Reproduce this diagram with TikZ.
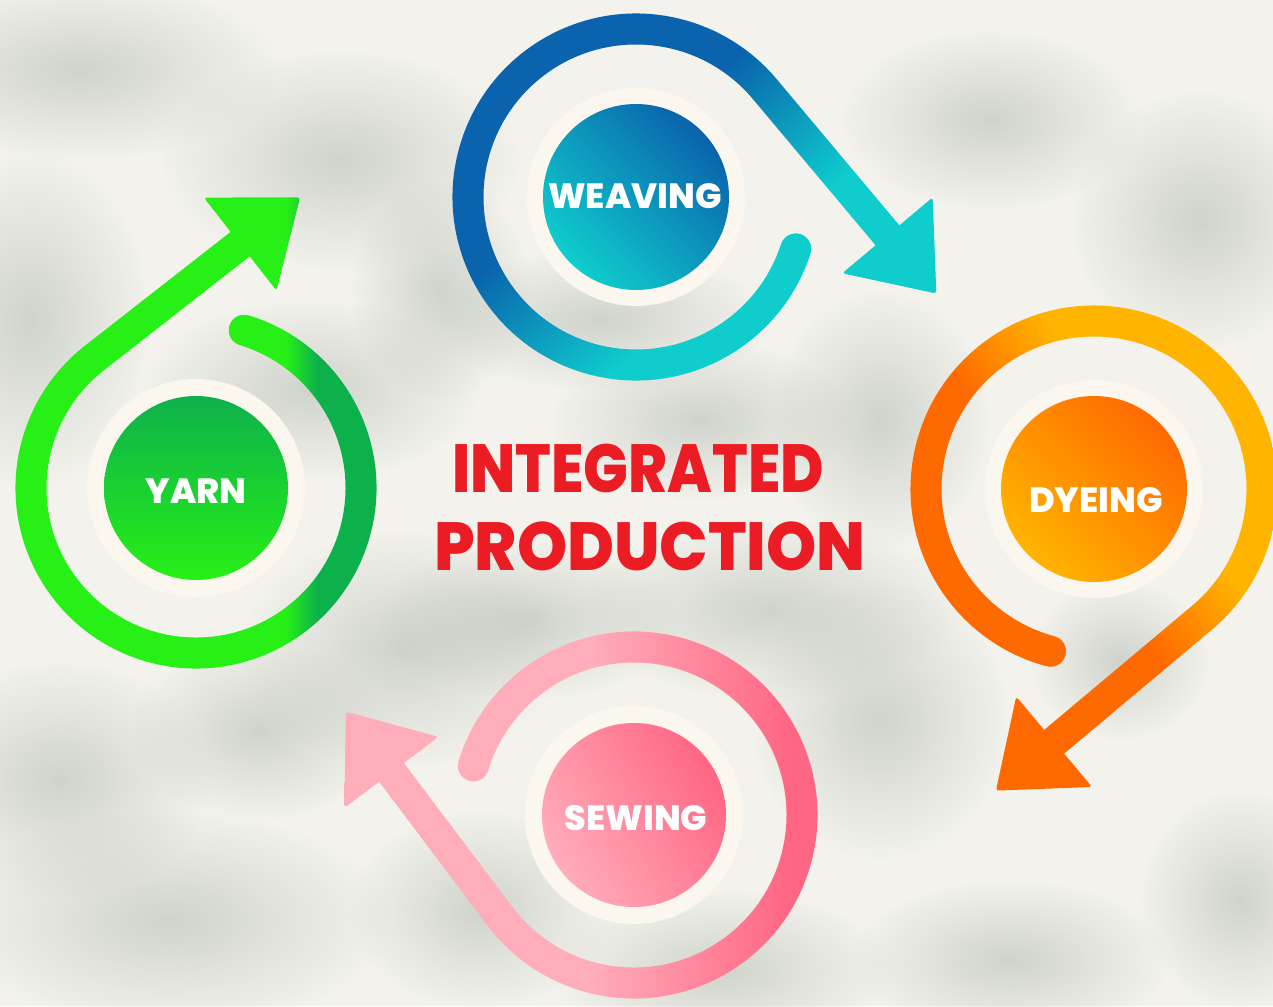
\documentclass[tikz,border=0pt]{standalone}
\usepackage{fontspec}
\setmainfont{Poppins}[BoldFont={Poppins ExtraBold}]
\usetikzlibrary{calc,fadings}

\definecolor{bgcream}{HTML}{F3F2EC}
\definecolor{blobgray}{HTML}{A3AFA4}
\definecolor{ringwhite}{HTML}{FBF6EE}
\definecolor{titlered}{HTML}{EC1C24}
\definecolor{yarnlime}{HTML}{27F017}
\definecolor{yarndark}{HTML}{0DB14B}
\definecolor{weaveblue}{HTML}{0A63AC}
\definecolor{weavecyan}{HTML}{0FCDCD}
\definecolor{dyeorange}{HTML}{FF6A00}
\definecolor{dyeamber}{HTML}{FFB400}
\definecolor{sewlight}{HTML}{FFACBB}
\definecolor{sewdeep}{HTML}{FF6683}

\pgfdeclarehorizontalshading{yarnband}{100bp}{color(0bp)=(yarnlime); color(61bp)=(yarnlime); color(65bp)=(yarndark); color(100bp)=(yarndark)}
\pgfdeclarehorizontalshading{weaveband}{100bp}{color(0bp)=(weaveblue); color(42bp)=(weaveblue); color(60bp)=(weavecyan); color(100bp)=(weavecyan)}
\pgfdeclarehorizontalshading{dyeband}{100bp}{color(0bp)=(dyeorange); color(48bp)=(dyeorange); color(60bp)=(dyeamber); color(100bp)=(dyeamber)}
\pgfdeclarehorizontalshading{sewband}{100bp}{color(0bp)=(sewlight); color(50bp)=(sewlight); color(70bp)=(sewdeep); color(100bp)=(sewdeep)}

\tikzfading[name=blobfade, inner color=transparent!0, outer color=transparent!100]

% loop with arrow: centre, radius, start angle, turn angle, line length, shading, shading angle
\newcommand\looparrow[7]{%
  \shade[shading=#6, shading angle=#7]
    ($(#1)+(#3:#2+hw)$) arc[start angle=#3, end angle=#4, radius=#2+hw]
    -- ($(#1)+(#4:#2+hw)+(#4+90:#5)$)
    [rounded corners=3pt]
    -- ($(#1)+(#4:#2+bw)+(#4+90:#5)$)
    -- ($(#1)+(#4:#2)+(#4+90:#5+hl)$)
    -- ($(#1)+(#4:#2-bw)+(#4+90:#5)$)
    [sharp corners]
    -- ($(#1)+(#4:#2-hw)+(#4+90:#5)$)
    -- ($(#1)+(#4:#2-hw)$) arc[start angle=#4, end angle=#3, radius=#2-hw]
    arc[start angle=#3+180, end angle=#3+360, radius=hw] -- cycle;}

\begin{document}
\begin{tikzpicture}[x=1pt,y=-1pt,declare function={hw=15.5; bw=59; hl=76;},
  lbl/.style={text=white,font=\bfseries\fontsize{35}{40}\selectfont,anchor=base,inner sep=0pt},
  headline/.style={text=titlered,font=\bfseries\fontsize{68}{74}\selectfont,anchor=base,inner sep=0pt}]
	\useasboundingbox (0,0) rectangle (1273,1006);
	\clip (0,0) rectangle (1273,1006);
	% blurred background
	\fill[bgcream] (0,0) rectangle (1273,1006);
	\foreach \x/\y/\rx/\ry in {80/70/200/90, 340/160/180/110, 30/320/120/170, 310/390/170/90,
		440/290/90/110, 400/650/160/120, 60/780/150/120, 170/920/220/110, 530/620/150/80,
		770/610/190/90, 880/720/130/140, 720/970/170/80, 990/120/150/90, 1200/220/130/130,
		1240/900/100/110, 880/420/110/130, 700/420/150/80, 600/320/170/70, 260/730/130/90,
		480/910/130/100, 1010/960/160/80, 1120/660/90/80}
		\fill[blobgray,opacity=.45,path fading=blobfade] (\x,\y) ellipse[x radius=\rx, y radius=\ry];
	% centres
	\coordinate (yarnc) at (196,488);
	\coordinate (weavec) at (636,197);
	\coordinate (dyec) at (1094,489);
	\coordinate (sewc) at (634,815);
	% loops
	\looparrow{yarnc}{165}{-73}{232}{185}{yarnband}{0}
	\looparrow{weavec}{168}{18}{320}{191}{weaveband}{-50}
	\looparrow{dyec}{168}{105}{410}{193}{dyeband}{36}
	\looparrow{sewc}{168}{-163}{143}{180}{sewband}{0}
	% discs
	\fill[ringwhite] (yarnc) circle[radius=109];
	\fill[ringwhite] (weavec) circle[radius=109];
	\fill[ringwhite] (dyec) circle[radius=109];
	\fill[ringwhite] (sewc) circle[radius=109];
	\shade[top color=yarndark,bottom color=yarnlime] (yarnc) circle[radius=92];
	\shade[top color=weaveblue,bottom color=weavecyan,shading angle=-45] (weavec) circle[radius=93];
	\shade[top color=dyeorange,bottom color=dyeamber,shading angle=-45] (dyec) circle[radius=93];
	\shade[top color=sewdeep,bottom color=sewlight,shading angle=-60] (sewc) circle[radius=92];
	% labels
	\node[lbl] (yarn) at (196,503) {YARN};
	\node[lbl] (weaving) at (635,208) {WEAVING};
	\node[lbl] (dyeing) at (1096,512) {DYEING};
	\node[lbl] (sewing) at (636,830) {SEWING};
	\node[headline] (title1) at (638,492) {\scalebox{.87}[1]{INTEGRATED}};
	\node[headline] (title2) at (650,570) {\scalebox{.94}[1]{PRODUCTION}};
\end{tikzpicture}
\end{document}
